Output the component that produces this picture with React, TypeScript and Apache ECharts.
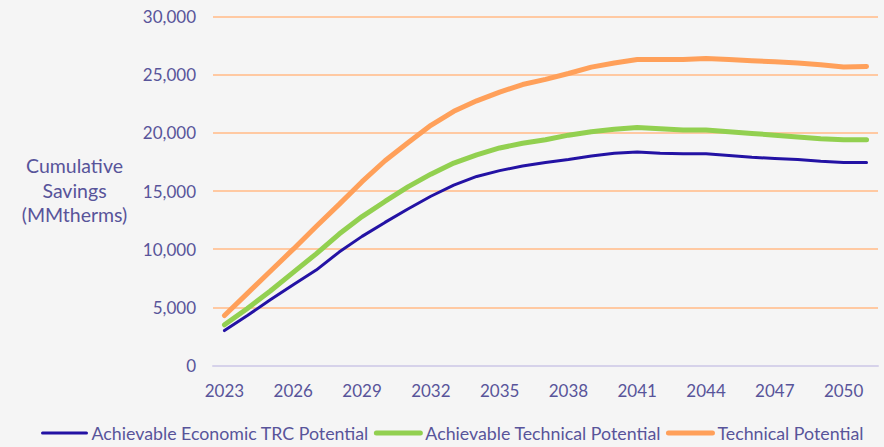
import React, { useEffect, useRef } from "react";
import * as echarts from "echarts";

const years = [
  "2023", "2024", "2025", "2026", "2027", "2028", "2029", "2030", "2031", "2032",
  "2033", "2034", "2035", "2036", "2037", "2038", "2039", "2040", "2041", "2042",
  "2043", "2044", "2045", "2046", "2047", "2048", "2049", "2050", "2051",
];

const achievableEconomicTrc = [
  3000, 4300, 5650, 6950, 8200, 9750, 11100, 12300, 13450, 14550,
  15500, 16250, 16750, 17150, 17450, 17700, 18000, 18250, 18350, 18250,
  18200, 18200, 18050, 17900, 17800, 17700, 17550, 17450, 17450,
];

const achievableTechnical = [
  3500, 4900, 6400, 8000, 9600, 11300, 12800, 14100, 15350, 16450,
  17400, 18100, 18700, 19100, 19400, 19800, 20100, 20300, 20450, 20350,
  20250, 20250, 20100, 19950, 19800, 19650, 19500, 19400, 19400,
];

const technical = [
  4300, 6200, 8100, 10000, 11950, 13850, 15800, 17600, 19150, 20650,
  21850, 22750, 23500, 24150, 24600, 25100, 25650, 26000, 26300, 26300,
  26300, 26400, 26300, 26200, 26100, 26000, 25850, 25650, 25700,
];

const seriesNames = [
  "Achievable Economic TRC Potential",
  "Achievable Technical Potential",
  "Technical Potential",
];

const yAxisTitle = "Cumulative\nSavings\n(MMtherms)";

const TEXT = "#58549a";
const FONT = "Lato";
const BLUE = "#2312a4";
const GREEN = "#92d050";
const ORANGE = "#ffa05a";
const LINE_WIDTHS = [3, 5, 5];
const COLORS = [BLUE, GREEN, ORANGE];
const SERIES_DATA = [achievableEconomicTrc, achievableTechnical, technical];

export default function App() {
  const ref = useRef<HTMLDivElement>(null);

  useEffect(() => {
    if (!ref.current) return;
    const chart = echarts.init(ref.current, undefined, { renderer: "svg" });
    chart.setOption({
      animation: false,
      backgroundColor: "#f5f5f5",
      textStyle: { fontFamily: FONT, color: TEXT },
      grid: { left: 213, right: 6, top: 16.5, bottom: 81.5 },
      legend: {
        left: 36,
        top: 419,
        itemWidth: 44,
        itemHeight: 16,
        itemGap: 5,
        // line-only keys: hide the marker dot drawn on top of each key line
        itemStyle: { opacity: 0 },
        textStyle: { fontFamily: FONT, fontSize: 17.8, color: TEXT },
        data: seriesNames.map((name, i) => ({
          name,
          lineStyle: { color: COLORS[i], width: LINE_WIDTHS[i], cap: "round" },
        })),
      },
      graphic: [
        {
          type: "text",
          x: 74.5,
          y: 190,
          style: {
            text: yAxisTitle,
            fontFamily: FONT,
            fontSize: 19.5,
            lineHeight: 24.5,
            fill: TEXT,
            align: "center",
            verticalAlign: "middle",
          },
        },
      ],
      xAxis: {
        type: "category",
        data: years,
        boundaryGap: true,
        axisLine: { lineStyle: { color: "#d6d2ea", width: 2 } },
        axisTick: { show: false },
        axisLabel: {
          interval: 2,
          fontFamily: FONT,
          fontSize: 17,
          color: TEXT,
          margin: 16,
        },
      },
      yAxis: {
        type: "value",
        min: 0,
        max: 30000,
        interval: 5000,
        axisLine: { show: false },
        axisTick: { show: false },
        splitLine: { lineStyle: { color: "#ffc9a2", width: 2 } },
        axisLabel: {
          fontFamily: FONT,
          fontSize: 17,
          color: TEXT,
          margin: 17,
          formatter: (v: number) => v.toLocaleString("en-US"),
        },
      },
      series: seriesNames.map((name, i) => ({
        name,
        type: "line",
        data: SERIES_DATA[i],
        symbol: "none",
        lineStyle: { color: COLORS[i], width: LINE_WIDTHS[i], cap: "round" },
        itemStyle: { color: COLORS[i] },
      })),
    });
    return () => chart.dispose();
  }, []);

  return (
    <div
      ref={ref}
      style={{ position: "absolute", left: 0, top: 0, width: 884, height: 447 }}
    />
  );
}
